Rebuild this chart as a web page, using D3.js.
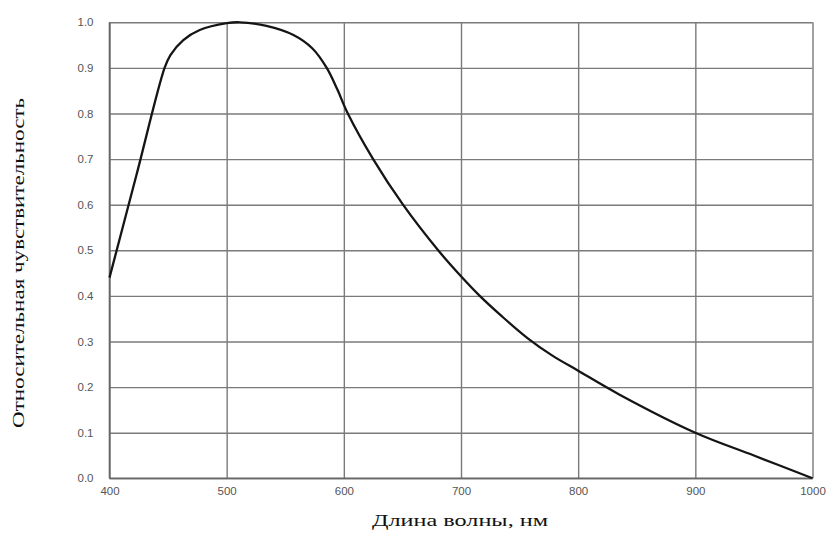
<!DOCTYPE html>
<html>
<head>
<meta charset="utf-8">
<script src="https://cdn.jsdelivr.net/npm/d3@7"></script>
<style>
  html, body { margin: 0; padding: 0; background: #fff; }
  svg { display: block; }
</style>
</head>
<body>
<svg id="chart" width="833" height="536"></svg>
<script>
// Wavelength (nm) and relative sensitivity
const wavelengths = [400, 423, 447, 452, 463, 477, 500, 511, 534, 557, 573, 585.4, 594.4, 603.4, 625, 650.5, 680.5, 700, 716, 735, 757, 778, 800, 835, 900, 950, 1000];
const sensitivity = [0.44, 0.665, 0.90, 0.928, 0.961, 0.983, 0.998, 1.0, 0.992, 0.972, 0.943, 0.90, 0.853, 0.80, 0.70, 0.60, 0.50, 0.443, 0.40, 0.355, 0.307, 0.269, 0.236, 0.184, 0.10, 0.05, 0.0];
const xTicks = [400, 500, 600, 700, 800, 900, 1000];
const yTicks = [0, 0.1, 0.2, 0.3, 0.4, 0.5, 0.6, 0.7, 0.8, 0.9, 1.0];
const xTitle = "Длина волны, нм";
const yTitle = "Относительная чувствительность";

const svg = d3.select("#chart");
const x = d3.scaleLinear().domain([400, 1000]).range([109.5, 812.5]);
const y = d3.scaleLinear().domain([0, 1]).range([478.3, 22.3]);

const gridColor = "#7a7a7a";
const labelColor = "#555";

// Horizontal gridlines + y labels
const yAxis = d3.axisLeft(y).tickValues(yTicks).tickFormat(d3.format(".1f"))
  .tickSize(-(x.range()[1] - x.range()[0])).tickPadding(16);
const gy = svg.append("g").attr("transform", `translate(${x.range()[0]},0)`).call(yAxis);
gy.select(".domain").remove();
gy.selectAll(".tick line").attr("stroke", gridColor).attr("stroke-width", 1.4);
gy.selectAll(".tick text").attr("fill", labelColor)
  .style("font-family", "'Liberation Sans', Arial, sans-serif").style("font-size", "11.5px");

// Vertical gridlines + x labels
const xAxis = d3.axisBottom(x).tickValues(xTicks).tickFormat(d3.format("d"))
  .tickSize(-(y.range()[0] - y.range()[1])).tickPadding(9);
const gx = svg.append("g").attr("transform", `translate(0,${y.range()[0]})`).call(xAxis);
gx.select(".domain").remove();
gx.selectAll(".tick line").attr("stroke", gridColor).attr("stroke-width", 1.4);
gx.selectAll(".tick text").attr("fill", labelColor)
  .style("font-family", "'Liberation Sans', Arial, sans-serif").style("font-size", "11.5px");

// Frame emphasis on left and bottom
svg.append("line").attr("x1", x(400)).attr("x2", x(400)).attr("y1", y(0)).attr("y2", y(1))
  .attr("stroke", "#666").attr("stroke-width", 1.6);
svg.append("line").attr("x1", x(400)).attr("x2", x(1000)).attr("y1", y(0)).attr("y2", y(0))
  .attr("stroke", "#666").attr("stroke-width", 1.6);

// Curve
const data = wavelengths.map((w, i) => ({ w, v: sensitivity[i] }));
const line = d3.line().x(d => x(d.w)).y(d => y(d.v)).curve(d3.curveCatmullRom.alpha(0.5));
svg.append("path").datum(data).attr("d", line)
  .attr("fill", "none").attr("stroke", "#151515").attr("stroke-width", 2.3)
  .attr("stroke-linejoin", "round");

// Axis titles
svg.append("text").attr("x", 460).attr("y", 526).attr("text-anchor", "middle")
  .attr("textLength", 176).attr("lengthAdjust", "spacingAndGlyphs")
  .style("font-family", "'Liberation Serif', 'Times New Roman', serif").style("font-size", "16px")
  .attr("fill", "#111").text(xTitle);

svg.append("text").attr("transform", "translate(24,263) rotate(-90)").attr("text-anchor", "middle")
  .attr("textLength", 330).attr("lengthAdjust", "spacingAndGlyphs")
  .style("font-family", "'Liberation Serif', 'Times New Roman', serif").style("font-size", "16px")
  .attr("fill", "#111").text(yTitle);
</script>
</body>
</html>
